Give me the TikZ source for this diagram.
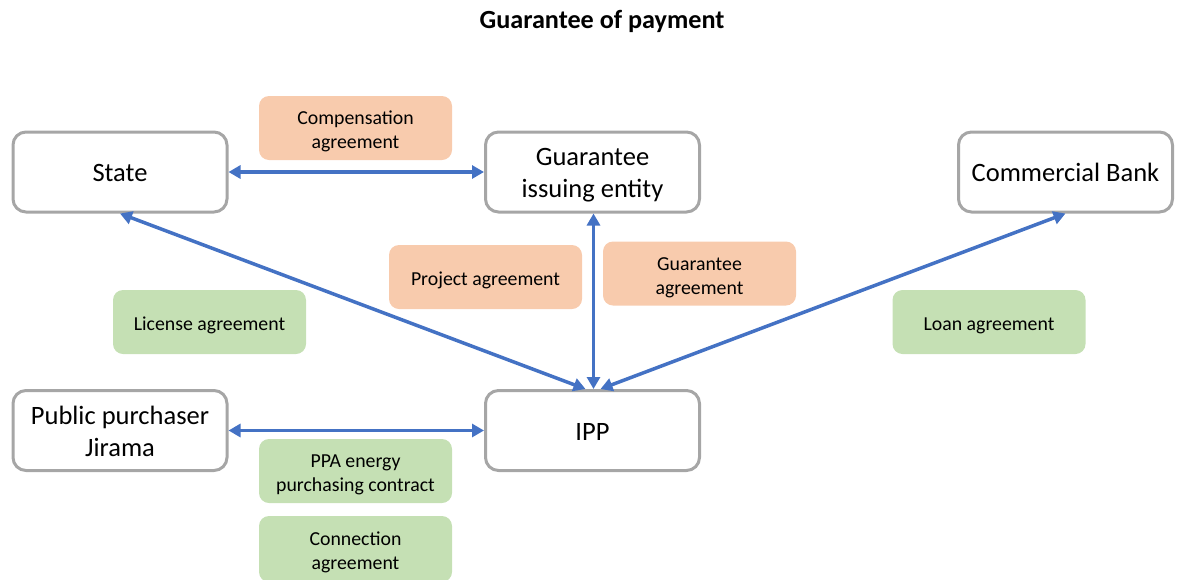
\documentclass[tikz,border=0pt]{standalone}
\usepackage{fontspec}
\setmainfont{Carlito}
\usetikzlibrary{arrows.meta}
\definecolor{arrblue}{HTML}{4472C4}
\definecolor{boxgray}{HTML}{A6A6A6}
\definecolor{lblorange}{HTML}{F8CBAD}
\definecolor{lblgreen}{HTML}{C5E0B4}
\newlength\txdrop
\newcommand\tx[1]{\raisebox{-\txdrop}[\height][\depth]{\begin{tabular}{@{}c@{}}#1\end{tabular}}}
\tikzset{
  party/.style={draw=boxgray, line width=3pt, rounded corners=13pt, fill=white,
    minimum width=214pt, minimum height=80pt,
    font=\fontsize{26.5}{32}\selectfont\setlength\txdrop{3.5pt}, inner sep=0pt},
  lbl/.style={rounded corners=10pt, minimum width=193pt, minimum height=64pt,
    font=\fontsize{19.8}{24}\selectfont\setlength\txdrop{4pt}, inner sep=0pt},
  orangelbl/.style={lbl, fill=lblorange},
  greenlbl/.style={lbl, fill=lblgreen},
  link/.style={draw=arrblue, line width=3.5pt,
    {Triangle[length=12pt,width=13pt]}-{Triangle[length=12pt,width=13pt]}},
  ttl/.style={font=\bfseries\fontsize{26.2}{31}\selectfont}
}
\begin{document}
\begin{tikzpicture}[x=1pt,y=-1pt]
\useasboundingbox (0,0) rectangle (1178,579);
\node[ttl] (title) at (602,21) {Guarantee of payment};
% labels
\node[orangelbl] (comp) at (355.5,128) {\tx{Compensation\\agreement}};
\node[orangelbl] (proj) at (485.5,277) {\tx{Project agreement}};
\node[orangelbl] (guar) at (699.5,273.5) {\tx{Guarantee\\agreement}};
\node[greenlbl] (lic) at (209.5,322) {\tx{License agreement}};
\node[greenlbl] (loan) at (989,322) {\tx{Loan agreement}};
\node[greenlbl] (ppa) at (355.5,471) {\tx{PPA energy\\purchasing contract}};
\node[greenlbl, minimum height=66pt] (conn) at (355.5,549) {\tx{Connection\\agreement}};
% parties
\node[party] (state) at (120,172) {\tx{State}};
\node[party] (gie) at (592.5,172) {\tx{Guarantee\\issuing entity}};
\node[party] (bank) at (1065.5,172) {\tx{Commercial Bank}};
\node[party] (pub) at (120,430.5) {\tx{Public purchaser\\Jirama}};
\node[party] (ipp) at (592.5,430.5) {\tx{IPP}};
% connectors
\draw[link] (state.east) -- (gie.west);
\draw[link] (pub.east) -- (ipp.west);
\draw[link] (state.south) -- ([xshift=-7pt]ipp.north);
\draw[link] ([xshift=1pt]gie.south) -- ([xshift=1pt]ipp.north);
\draw[link] ([xshift=8pt]ipp.north) -- (bank.south);
\end{tikzpicture}
\end{document}
